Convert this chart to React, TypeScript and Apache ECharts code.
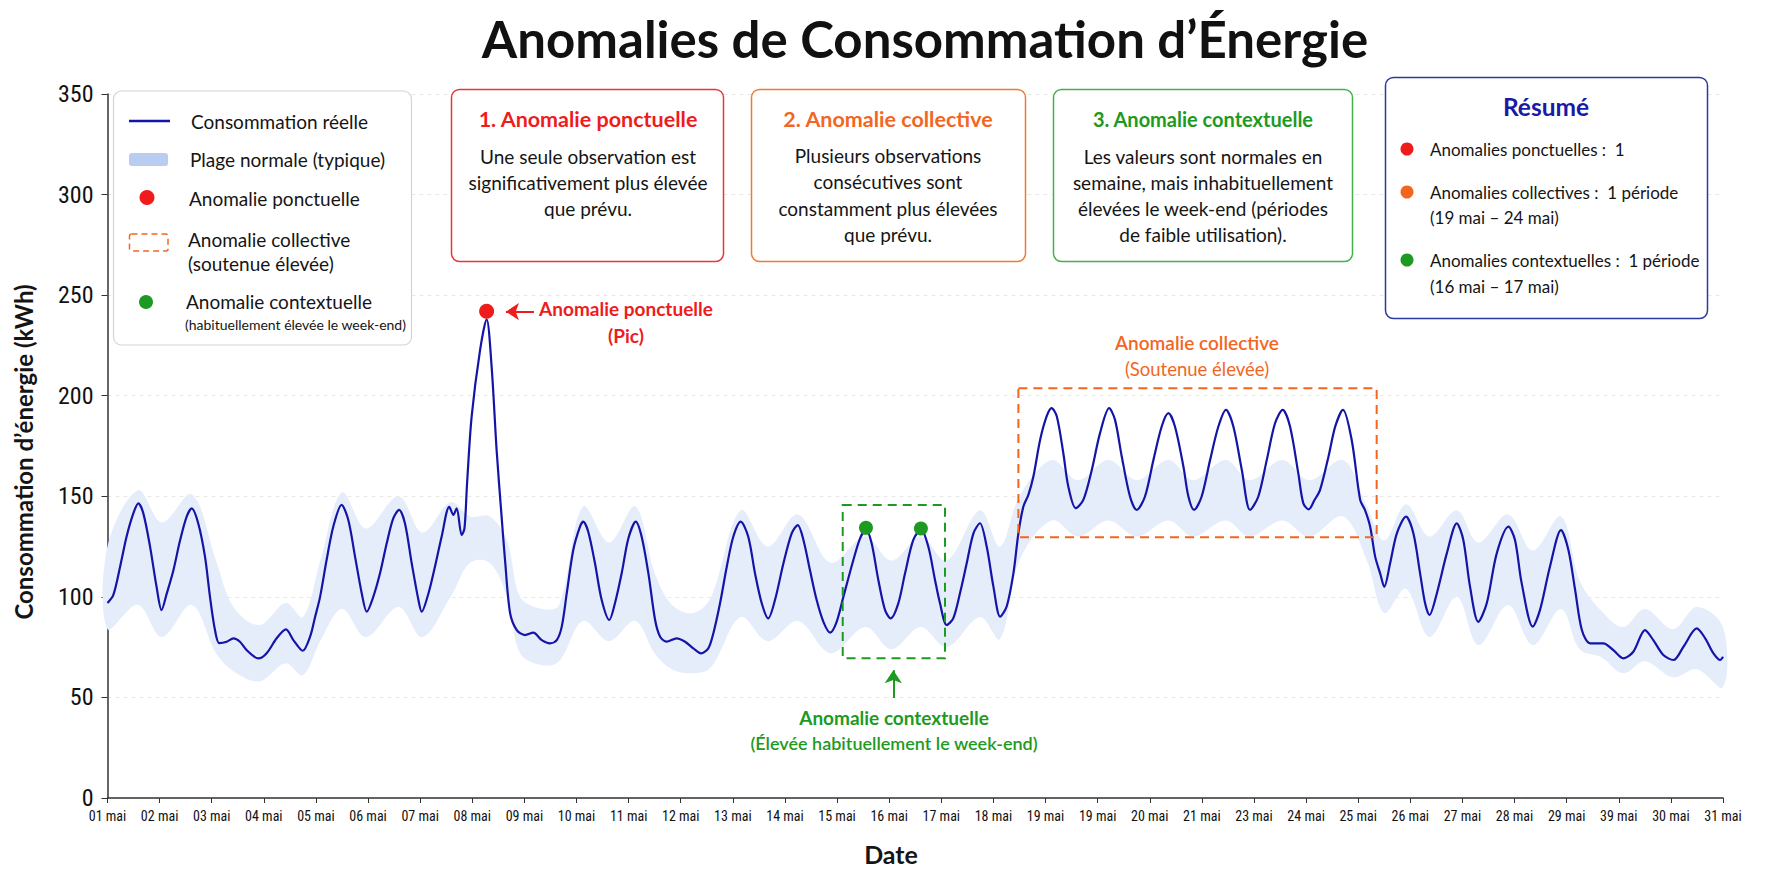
import React, { useEffect, useRef } from "react";
import * as echarts from "echarts";

// ---------- DATA ----------
const xLabels = [
  "01 mai", "02 mai", "03 mai", "04 mai", "05 mai", "06 mai", "07 mai", "08 mai",
  "09 mai", "10 mai", "11 mai", "12 mai", "13 mai", "14 mai", "15 mai", "16 mai",
  "17 mai", "18 mai", "19 mai", "19 mai", "20 mai", "21 mai", "23 mai", "24 mai",
  "25 mai", "26 mai", "27 mai", "28 mai", "29 mai", "39 mai", "30 mai", "31 mai",
];

// [hour since 01 mai 00h, kWh]
const consumption: [number, number][] = [
  [0, 97], [2.7, 101], [5.8, 115], [8.8, 130], [11.9, 141.5], [14.2, 146.5], [16.5, 141.5], [19.6, 125], [22.6, 105],
  [24.9, 93.4], [27.3, 101.7], [30.3, 113], [33.4, 128], [36.5, 140], [38.8, 144], [41.8, 136.5], [44.9, 120], [47.2, 100],
  [49.5, 83.5], [51.5, 77], [54.9, 77.7], [58, 79.4], [61, 77.7], [64.1, 73.5], [69.5, 69.4], [73.3, 72], [77.9, 79.4],
  [82.2, 83.8], [85.6, 78.5], [89.9, 73.2], [93.3, 80.2], [95.6, 90], [97.9, 100], [100.9, 118.3], [104, 135], [107.8, 145.7],
  [110.9, 138.2], [114, 120], [117.1, 101.7], [119.4, 92.6], [122.4, 100], [125.5, 111.7], [128.6, 126.6], [131.6, 139],
  [134.3, 143.2], [137, 136.5], [140.1, 116.7], [143.2, 98.4], [144.7, 92.6], [147.8, 101.7], [150.8, 115], [153.9, 130],
  [157.4, 144.8], [159.3, 140.7], [160.8, 144], [163.1, 130.7], [164.4, 134], [165.6, 156.5], [167.7, 189.6], [171.6, 222.8],
  [174.6, 238], [176.9, 214.5], [179.2, 173], [181.5, 139.9], [183.1, 118], [185.4, 92], [188.5, 83.5], [192.3, 81],
  [196.1, 82.2], [200, 78.5], [203.8, 76.9], [206.9, 78.5], [209.2, 85.2], [211.5, 101.7], [214.5, 123.3], [217.6, 134.9],
  [219.1, 137.4], [221.4, 132.4], [224.5, 116.7], [227.6, 98.4], [231.1, 88.5], [233.7, 96.8], [236.8, 111.7], [239.9, 129.1],
  [243.3, 137.4], [246, 129.9], [249.1, 111.7], [252.2, 88.5], [254.5, 80.2], [257.5, 77.7], [262.1, 79.4], [266, 77.7],
  [269.8, 74.4], [273.3, 71.9], [276.7, 74.4], [279, 81.8], [282.1, 96.8], [285.2, 115], [288.2, 129.9], [291.6, 137.4],
  [295.1, 129.9], [298.2, 111.7], [301.3, 96.8], [304.3, 89.3], [307.4, 98.4], [311.3, 116.7], [315.1, 131.6], [317.9, 135.7],
  [320.5, 128.3], [323.5, 113.3], [326.6, 98.4], [329.7, 87.6], [332.8, 82.2], [335.8, 87.6], [338.9, 100], [343.5, 118.3],
  [346.6, 129.1], [349.3, 133.5], [351.9, 126.6], [355, 108.4], [358.1, 93.4], [360.7, 89.3], [364.2, 96.8], [367.3, 111.7],
  [371.1, 128.3], [374.6, 133.5], [378, 125], [381.1, 108.4], [383.4, 96.8], [386.5, 86], [389.5, 89.3], [392.6, 101.8],
  [395.7, 116.7], [398.8, 131.6], [401.8, 136.6], [404.9, 125], [408, 105.1], [411.1, 90.2], [414.1, 95.2], [417.2, 111.7],
  [419.5, 131.6], [421.8, 144.9], [424.1, 150.7], [426.4, 159.8], [429.5, 178], [432.5, 189.7], [434.8, 193.8], [437.2, 189.7],
  [440.2, 171.4], [442.5, 154.8], [445.9, 144.1], [449.4, 148.2], [453.3, 163.1], [457.1, 181.4], [461.3, 193.8], [464, 188],
  [467.1, 169.8], [470.9, 149.9], [474, 143.2], [477.8, 149.9], [481.7, 168.1], [485.5, 184.7], [488.6, 191.3], [491.6, 184.7],
  [495.5, 164.8], [497.8, 149.9], [500.4, 143.2], [503.9, 149.9], [507.8, 168.1], [511.6, 184.7], [515.1, 193], [518.5, 184.7],
  [522.4, 163.1], [526.2, 143.2], [530, 149.9], [533.9, 168.1], [537.7, 186.3], [541.2, 193], [544.6, 184.7], [548.4, 161.5],
  [550.7, 146.6], [553.2, 143.5], [555.8, 148], [558.4, 153.1], [562.3, 169.7], [565.5, 185], [569, 193], [573, 178],
  [576.9, 148.2], [579.1, 143.2], [581.5, 134.9], [583.8, 120], [586.1, 111.7], [588, 105], [590.7, 116.7], [593.8, 131.6],
  [598, 139.9], [601.4, 131.6], [604.5, 111.7], [606.8, 96.8], [608.8, 91], [612.2, 101.7], [616.8, 121.6], [621.4, 136.5],
  [624.4, 128.3], [627.5, 105], [631.3, 87.6], [635.2, 96.8], [639.8, 121.6], [645.2, 134.9], [648.2, 128.3], [651.3, 106.7],
  [656.4, 85.2], [659.7, 93.4], [664.3, 115], [669.4, 133.2], [672.8, 123.3], [675.9, 103.4], [679, 83.5], [682.8, 76.9],
  [688.9, 76.9], [693.5, 73.5], [698.1, 69.4], [702.7, 72.7], [708.1, 83.5], [711.9, 78.5], [716.5, 71.1], [721.2, 68.6],
  [725.8, 75.2], [731.9, 84.3], [735.8, 79.4], [739.6, 71.9], [742.7, 68.6], [744, 70.2],
];

// normal (typical) range
const bandHours = [0, 14, 25, 38.8, 50, 58, 70, 82, 90, 98, 108, 119, 134, 145, 158, 167, 176, 184, 190, 200, 208, 219, 231, 243, 252, 260, 270, 278, 291.6, 304, 318, 333, 349, 361, 374.5, 386.5, 401.8, 411, 420, 434.8, 447, 461, 474, 488.6, 500, 515, 526, 541, 553.5, 569, 580, 588, 598, 608.8, 621.4, 631.3, 645, 656.4, 669.4, 678, 688, 698, 708, 721, 732, 744];
const bandLow = [84, 96, 80, 96, 72, 63, 58, 67, 61, 78, 94, 80, 95, 80, 100, 117, 117, 100, 72, 66, 68, 88, 78, 88, 72, 64, 62, 65, 90, 78, 88, 72, 85, 74, 85, 75, 90, 79, 118, 138, 130, 138, 130, 138, 130, 138, 130, 138, 130, 140, 118, 92, 104, 80, 100, 76, 96, 76, 94, 74, 70, 62, 68, 60, 64, 55];
const bandHigh = [125, 153, 137, 151, 118, 95, 86, 97, 90, 118, 152, 134, 150, 132, 147, 140, 140, 128, 100, 94, 96, 145, 127, 145, 112, 96, 92, 100, 143, 125, 141, 117, 130, 118, 130, 118, 143, 125, 150, 168, 158, 168, 158, 168, 158, 168, 158, 168, 158, 168, 145, 128, 146, 130, 143, 127, 141, 123, 140, 108, 93, 85, 94, 84, 95, 85];

const pointAnomaly: [number, number][] = [[174.6, 242]];
const contextualAnomalies: [number, number][] = [[349.3, 134.3], [374.6, 134]];
// [hourStart, kWhTop, hourEnd, kWhBottom]
const collectiveZone = [419.5, 203.7, 584.5, 129.6];
const contextualZone = [338.6, 145.7, 385.7, 69.5];

// ---------- STYLE ----------
const FONT = 'Lato, "Noto Sans", sans-serif';
const NARROW = '"Liberation Sans Narrow", "Roboto Condensed", "Arial Narrow", sans-serif';
const BLUE = "#1414a6";
const RED = "#ee1c1c";
const ORANGE = "#f2661f";
const GREEN = "#1d9a22";
const BAND = "#e5edfb";

function txt(x: number, y: number, text: string, o: any = {}) {
  return {
    type: "text",
    x,
    y,
    z: 110,
    rotation: o.rotation || 0,
    style: {
      text,
      fill: o.color || "#151515",
      fontSize: o.size || 16,
      fontWeight: o.weight || "normal",
      fontFamily: o.family || FONT,
      align: o.align || "center",
      textAlign: o.align || "center",
      verticalAlign: "middle",
      textVerticalAlign: "middle",
    },
  };
}
function box(x: number, y: number, w: number, h: number, stroke: string, o: any = {}) {
  return {
    type: "rect",
    z: 100,
    shape: { x, y, width: w, height: h, r: o.r ?? 8 },
    style: { fill: o.fill || "#ffffff", stroke, lineWidth: o.lw || 1.5, lineDash: o.dash || null },
  };
}
function dot(cx: number, cy: number, r: number, fill: string) {
  return { type: "circle", z: 110, shape: { cx, cy, r }, style: { fill } };
}

export default function App() {
  const ref = useRef<HTMLDivElement>(null);
  useEffect(() => {
    if (!ref.current) return;
    const chart = echarts.init(ref.current, null, { renderer: "svg" });

    const LG = 19;
    const BODY = 19;
    const RS = 17;
    const graphic: any[] = [
      txt(925, 38, "Anomalies de Consommation d’Énergie", { size: 51, weight: "bold", color: "#111" }),
      txt(23, 452, "Consommation d’énergie (kWh)", { size: 24, weight: "bold", rotation: Math.PI / 2 }),
      txt(891, 854, "Date", { size: 25, weight: "bold" }),

      // legend
      box(113.5, 91, 298, 254, "#d4d4d4", { lw: 1.2 }),
      { type: "line", z: 110, shape: { x1: 129, y1: 121, x2: 170, y2: 121 }, style: { stroke: BLUE, lineWidth: 2.5 } },
      { type: "rect", z: 110, shape: { x: 129, y: 153, width: 39, height: 13, r: 3 }, style: { fill: "#b9ccf1" } },
      dot(147, 197.5, 7.5, RED),
      { type: "rect", z: 110, shape: { x: 129.5, y: 234, width: 38.5, height: 17, r: 2 }, style: { fill: "none", stroke: ORANGE, lineWidth: 1.5, lineDash: [6, 4] } },
      dot(146, 302, 7, GREEN),
      txt(191, 121, "Consommation réelle", { size: LG, align: "left" }),
      txt(190, 159, "Plage normale (typique)", { size: LG, align: "left" }),
      txt(189, 198, "Anomalie ponctuelle", { size: LG, align: "left" }),
      txt(188, 239, "Anomalie collective", { size: LG, align: "left" }),
      txt(188, 263, "(soutenue élevée)", { size: LG, align: "left" }),
      txt(186, 301, "Anomalie contextuelle", { size: LG, align: "left" }),
      txt(185, 324, "(habituellement élevée le week-end)", { size: 14, align: "left" }),

      // box 1
      box(451.5, 89.5, 272, 172, "#e8353a"),
      txt(588, 119, "1. Anomalie ponctuelle", { size: 21.5, weight: "bold", color: RED }),
      txt(588, 156, "Une seule observation est", { size: BODY }),
      txt(588, 182, "significativement plus élevée", { size: BODY }),
      txt(588, 208, "que prévu.", { size: BODY }),
      // box 2
      box(751.5, 89.5, 274, 172, "#f07a35"),
      txt(888, 119, "2. Anomalie collective", { size: 21.5, weight: "bold", color: ORANGE }),
      txt(888, 155, "Plusieurs observations", { size: BODY }),
      txt(888, 181, "consécutives sont", { size: BODY }),
      txt(888, 208, "constamment plus élevées", { size: BODY }),
      txt(888, 234, "que prévu.", { size: BODY }),
      // box 3
      box(1053.5, 89.5, 299, 172, "#45b04a"),
      txt(1203, 119, "3. Anomalie contextuelle", { size: 20, weight: "bold", color: GREEN }),
      txt(1203, 156, "Les valeurs sont normales en", { size: BODY }),
      txt(1203, 182, "semaine, mais inhabituellement", { size: BODY }),
      txt(1203, 208, "élevées le week-end (périodes", { size: BODY }),
      txt(1203, 234, "de faible utilisation).", { size: BODY }),
      // résumé
      box(1385.5, 77.5, 322, 241, "#2a3aa0"),
      txt(1546, 106, "Résumé", { size: 24.5, weight: "bold", color: "#1a1aa6" }),
      dot(1407, 149, 6.5, RED),
      dot(1407, 192, 6.5, ORANGE),
      dot(1407, 260, 6.5, GREEN),
      txt(1430, 149, "Anomalies ponctuelles :  1", { size: RS, align: "left" }),
      txt(1430, 192, "Anomalies collectives :  1 période", { size: RS, align: "left" }),
      txt(1430, 217, "(19 mai – 24 mai)", { size: RS, align: "left" }),
      txt(1430, 260, "Anomalies contextuelles :  1 période", { size: RS, align: "left" }),
      txt(1430, 286, "(16 mai – 17 mai)", { size: RS, align: "left" }),

      // annotations
      txt(626, 308, "Anomalie ponctuelle", { size: 19, weight: "bold", color: RED }),
      txt(626, 335, "(Pic)", { size: 19, weight: "bold", color: RED }),
      txt(1197, 342, "Anomalie collective", { size: 19, weight: 600, color: ORANGE }),
      txt(1197, 369, "(Soutenue élevée)", { size: 18.5, color: ORANGE }),
      txt(894, 717, "Anomalie contextuelle", { size: 19, weight: "bold", color: GREEN }),
      txt(894, 743, "(Élevée habituellement le week-end)", { size: 18, weight: 600, color: GREEN }),
    ];

    const zoneStyle = (c: string) => ({
      color: "rgba(0,0,0,0)",
      borderColor: c,
      borderWidth: 2,
      borderType: [9, 6],
    });

    chart.setOption({
      animation: false,
      backgroundColor: "#ffffff",
      grid: { left: 107.5, right: 51, top: 94, bottom: 89 },
      xAxis: {
        type: "value",
        min: 0,
        max: 744,
        interval: 24,
        axisLine: { show: true, lineStyle: { color: "#333", width: 1.5 } },
        axisTick: { show: true, length: 5, lineStyle: { color: "#333" } },
        axisLabel: {
          formatter: (v: number) => xLabels[Math.round(v / 24)] ?? "",
          fontFamily: NARROW,
          fontSize: 14,
          color: "#111",
          margin: 11,
          showMinLabel: true,
          showMaxLabel: true,
        },
        splitLine: { show: false },
      },
      yAxis: {
        type: "value",
        min: 0,
        max: 350,
        interval: 50,
        axisLine: { show: true, lineStyle: { color: "#333", width: 1.5 } },
        axisTick: { show: true, length: 6, lineStyle: { color: "#333" } },
        axisLabel: { fontFamily: NARROW, fontSize: 24, color: "#111", margin: 14 },
        splitLine: { show: true, lineStyle: { color: "#e8e8e8", type: [4, 4] } },
      },
      graphic,
      series: [
        {
          type: "custom",
          name: "Plage normale (typique)",
          silent: true,
          z: 1,
          data: [[0, 0]],
          renderItem: (_p: any, api: any) => {
            const top = bandHours.map((h, i) => api.coord([h, bandHigh[i]]));
            const bot = bandHours.map((h, i) => api.coord([h, bandLow[i]])).reverse();
            return {
              type: "polygon",
              shape: { points: top.concat(bot), smooth: 0.35 },
              style: { fill: BAND },
            };
          },
        },
        {
          type: "line",
          name: "Consommation réelle",
          data: consumption,
          showSymbol: false,
          smooth: 0.3,
          z: 3,
          lineStyle: { color: BLUE, width: 2.2 },
          markArea: {
            silent: true,
            z: 10,
            data: [
              [
                { coord: [collectiveZone[0], collectiveZone[1]], itemStyle: zoneStyle(ORANGE) },
                { coord: [collectiveZone[2], collectiveZone[3]] },
              ],
              [
                { coord: [contextualZone[0], contextualZone[1]], itemStyle: zoneStyle(GREEN) },
                { coord: [contextualZone[2], contextualZone[3]] },
              ],
            ],
          },
          markLine: {
            silent: true,
            symbol: ["none", "arrow"],
            symbolSize: 13,
            label: { show: false },
            data: [
              [
                { coord: [196.4, 241.8], lineStyle: { color: RED, width: 2, type: "solid" }, itemStyle: { color: RED } },
                { coord: [183.5, 241.8] },
              ],
              [
                { coord: [361.9, 49.7], lineStyle: { color: GREEN, width: 2, type: "solid" }, itemStyle: { color: GREEN } },
                { coord: [361.9, 63.5] },
              ],
            ],
          },
        },
        {
          type: "scatter",
          name: "Anomalie ponctuelle",
          data: pointAnomaly,
          symbolSize: 15,
          z: 12,
          itemStyle: { color: RED, opacity: 1 },
        },
        {
          type: "scatter",
          name: "Anomalie contextuelle",
          data: contextualAnomalies,
          symbolSize: 14,
          z: 12,
          itemStyle: { color: GREEN, opacity: 1 },
        },
      ],
    });
    return () => chart.dispose();
  }, []);

  return (
    <div
      ref={ref}
      style={{ position: "fixed", left: 0, top: 0, width: 1774, height: 887, background: "#fff" }}
    />
  );
}
